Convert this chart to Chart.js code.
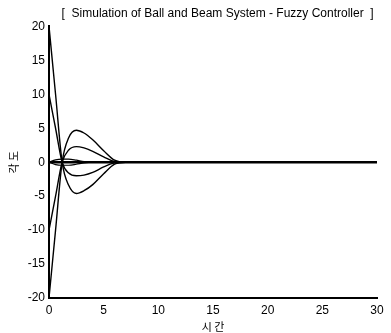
<!DOCTYPE html>
<html>
<head>
<meta charset="utf-8">
<script src="https://cdn.jsdelivr.net/npm/chart.js@4"></script>
<style>
  html, body { margin: 0; padding: 0; background: #fff; }
  #wrap { width: 391px; height: 333px; }
</style>
</head>
<body>
<div id="wrap"><canvas id="myChart" width="391" height="333"></canvas></div>
<script>
// time points (seconds)
const time = [0, 0.6, 1.2, 1.8, 2.5, 3.2, 4, 5, 6, 7, 8, 10, 15, 20, 25, 30];

// angle responses for different initial conditions
const startPos20 = [20, 10, 0, -3.4, -4.6, -4.2, -3.3, -1.7, -0.3, 0, 0, 0, 0, 0, 0, 0];
const startPos10 = [10, 5, 0, -1.6, -2.0, -1.9, -1.5, -0.7, -0.1, 0, 0, 0, 0, 0, 0, 0];
const startNeg10 = [-10, -5, 0, 1.8, 2.3, 2.1, 1.6, 0.8, 0.1, 0, 0, 0, 0, 0, 0, 0];
const startNeg20 = [-20, -10, 0, 3.6, 4.7, 4.3, 3.3, 1.7, 0.3, 0, 0, 0, 0, 0, 0, 0];
const smallPos = [0, 0.35, 0.45, 0.45, 0.3, 0.1, 0, 0, 0, 0, 0, 0, 0, 0, 0, 0];
const smallNeg = [0, -0.35, -0.45, -0.45, -0.3, -0.1, 0, 0, 0, 0, 0, 0, 0, 0, 0, 0];
const zeroLine = [0, 0, 0, 0, 0, 0, 0, 0, 0, 0, 0, 0, 0, 0, 0, 0];

const xTicks = [0, 5, 10, 15, 20, 25, 30];
const yTicks = [-20, -15, -10, -5, 0, 5, 10, 15, 20];

const toPoints = (vals) => time.map((t, i) => ({ x: t, y: vals[i] }));

const series = [
  { data: startPos20, width: 1.4 },
  { data: startPos10, width: 1.4 },
  { data: startNeg10, width: 1.4 },
  { data: startNeg20, width: 1.4 },
  { data: smallPos, width: 1.2 },
  { data: smallNeg, width: 1.2 },
  { data: zeroLine, width: 2.6 },
];

const datasets = series.map((s) => ({
  data: toPoints(s.data),
  borderColor: '#000',
  borderWidth: s.width,
  pointRadius: 0,
  fill: false,
  cubicInterpolationMode: 'monotone',
}));

const tickFont = { family: 'Liberation Sans, Arial, sans-serif', size: 12 };

new Chart(document.getElementById('myChart'), {
  type: 'line',
  data: { datasets: datasets },
  options: {
    responsive: false,
    animation: false,
    layout: { padding: { right: 14, left: 0, top: 0, bottom: 0 } },
    plugins: {
      legend: { display: false },
      tooltip: { enabled: false },
      title: {
        display: true,
        align: 'end',
        text: '[  Simulation of Ball and Beam System - Fuzzy Controller  ] ',
        color: '#000',
        font: { family: 'Liberation Sans, Arial, sans-serif', size: 12, weight: 'normal' },
        padding: { top: 6, bottom: 6 },
      },
    },
    scales: {
      x: {
        type: 'linear',
        min: 0,
        max: 30,
        afterBuildTicks: (scale) => { scale.ticks = xTicks.map((v) => ({ value: v })); },
        afterFit: (scale) => { scale.height = 35; },
        grid: { display: false, drawTicks: false },
        border: { display: true, color: '#000', width: 2 },
        ticks: { color: '#000', font: tickFont, padding: 5, maxRotation: 0 },
        title: {
          display: true,
          text: '시 간',
          color: '#000',
          font: { family: 'Noto Sans CJK KR', size: 11 },
          padding: { top: 0, bottom: 0 },
        },
      },
      y: {
        min: -20,
        max: 20,
        afterBuildTicks: (scale) => { scale.ticks = yTicks.map((v) => ({ value: v })); },
        afterFit: (scale) => { scale.width = 49; },
        grid: { display: false, drawTicks: false },
        border: { display: true, color: '#000', width: 2 },
        ticks: { color: '#000', font: tickFont, padding: 4 },
        title: {
          display: true,
          text: '각 도',
          color: '#000',
          font: { family: 'Noto Sans CJK KR', size: 11 },
          padding: { top: 7, bottom: 0 },
        },
      },
    },
  },
});
</script>
</body>
</html>
